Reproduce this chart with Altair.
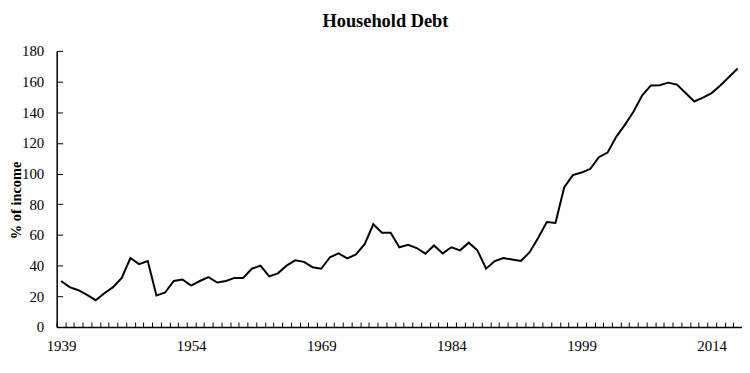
import altair as alt
import pandas as pd

years = list(range(1939, 2018))
debt = [30, 26, 24, 21, 17.5, 22, 26, 32, 45, 41, 43,
        20.5, 22.5, 30, 31, 27, 30, 32.5, 29, 30, 32,
        32, 38, 40, 33, 35, 40, 43.5, 42.5, 39, 38,
        45.5, 48, 44.7, 47.3, 54, 67, 61.5, 61.5, 52, 53.6,
        51.5, 47.8, 53.2, 48, 52, 50, 55, 50, 38, 43,
        45, 44, 43, 48.6, 58, 68.4, 67.8, 91, 99, 100.7,
        103, 110.7, 113.7, 124, 131.8, 140.5, 151, 157.5, 157.6, 159.3,
        158, 152.5, 147, 149.5, 152.5, 157.5, 163, 168.5]
x_labels = [1939, 1954, 1969, 1984, 1999, 2014]
y_ticks = [0, 20, 40, 60, 80, 100, 120, 140, 160, 180]

W, H = 690, 278
FONT = "Liberation Serif"

df = pd.DataFrame({"year": years, "debt": debt})
x_tick_pos = [years[0] - 0.5] + [y + 0.5 for y in years]

xscale = alt.Scale(domain=[years[0] - 0.5, years[-1] + 0.5], nice=False, zero=False)
yscale = alt.Scale(domain=[0, 180], nice=False)

# main axes: labels, domain lines, title
xaxis = alt.Axis(values=x_labels, format="d", title=None, grid=False,
                 ticks=False, tickSize=0, labelPadding=12,
                 labelFont=FONT, labelFontSize=15, labelColor="black",
                 domainColor="black", domainWidth=1.5)
yaxis = alt.Axis(values=y_ticks, title="% of income", grid=False,
                 ticks=False, tickSize=0, labelPadding=13,
                 labelFont=FONT, labelFontSize=15, labelColor="black",
                 domainColor="black", domainWidth=1.5,
                 titleFont=FONT, titleFontSize=14.5, titleFontWeight="bold",
                 titleColor="black", titleAngle=270, titleX=-36, titleY=150,
                 titleAlign="center", titleBaseline="alphabetic")

# tick-only axes moved onto the opposite side so their ticks point inward
xtick_axis = alt.Axis(orient="top", offset=-H, values=x_tick_pos, labels=False,
                      domain=False, grid=False, title=None, ticks=True,
                      tickSize=5, tickColor="black", tickWidth=1)
ytick_axis = alt.Axis(orient="right", offset=-W, values=y_ticks, labels=False,
                      domain=False, grid=False, title=None, ticks=True,
                      tickSize=6, tickColor="black", tickWidth=1)

line = alt.Chart(df).mark_line(color="black", strokeWidth=2).encode(
    x=alt.X("year:Q", scale=xscale, axis=xaxis),
    y=alt.Y("debt:Q", scale=yscale, axis=yaxis),
)

ghost = alt.Chart(df).mark_line(color="black", strokeWidth=2, opacity=0).encode(
    x=alt.X("year:Q", scale=xscale, axis=xtick_axis),
    y=alt.Y("debt:Q", scale=yscale, axis=ytick_axis),
)

chart = alt.layer(line, ghost).resolve_axis(
    x="independent", y="independent"
).properties(
    width=W, height=H,
    title=alt.TitleParams("Household Debt", font=FONT, fontSize=18.5,
                          fontWeight="bold", color="black", anchor="middle",
                          frame="group", dx=-14, offset=14),
    autosize=alt.AutoSizeParams(type="none"),
    padding={"left": 49, "top": 42, "right": 0, "bottom": 30},
).configure(background="white", view=alt.ViewConfig(stroke=None))

chart.save("out.html", embed_options={"renderer": "svg", "actions": False})
